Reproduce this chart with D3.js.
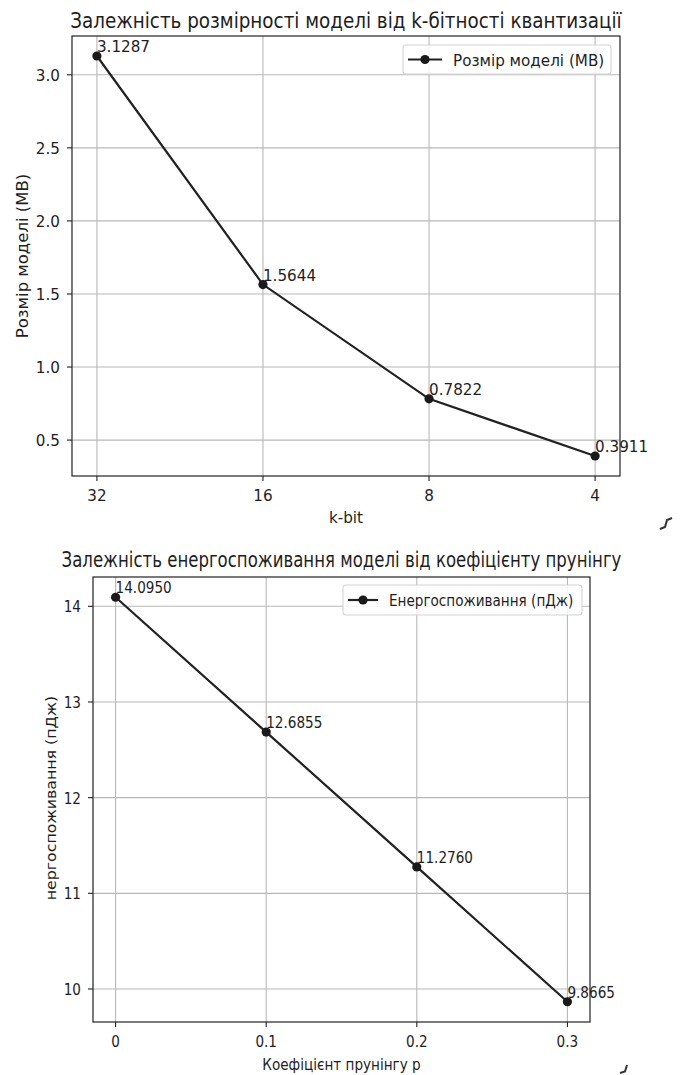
<!DOCTYPE html>
<html>
<head>
<meta charset="utf-8">
<script src="https://cdn.jsdelivr.net/npm/d3@7"></script>
<style>
  html, body { margin: 0; padding: 0; background: #fff; }
  svg { display: block; }
  text { font-family: "DejaVu Sans", sans-serif; fill: #1e1e1e; }
</style>
</head>
<body>
<svg id="fig" width="683" height="1075"></svg>
<script>
// ---- Chart 1: model size vs. quantization bit width ----
const kbitLabels = ["32", "16", "8", "4"];
const modelSizes = [3.1287, 1.5644, 0.7822, 0.3911];
const sizeTicks = [0.5, 1.0, 1.5, 2.0, 2.5, 3.0];

// ---- Chart 2: energy consumption vs. pruning coefficient ----
const pruneCoef = [0, 0.1, 0.2, 0.3];
const energy = [14.0950, 12.6855, 11.2760, 9.8665];
const pruneTicks = [0, 0.1, 0.2, 0.3];
const energyTicks = [10, 11, 12, 13, 14];

const INK = "#222";
const GRID = "#b8b8b8";

const svg = d3.select("#fig");

function label(g, x, y, s, o) {
  const sx = o.sx;
  return g.append("text")
    .attr("transform", `translate(${x},${y})` + (o.rotate ? ` rotate(${o.rotate}) scale(1,${sx})` : ` scale(${sx},1)`))
    .attr("font-size", o.fs)
    .attr("text-anchor", o.anchor || "start")
    .text(s);
}

function margined(lo, hi) {
  const pad = (hi - lo) * 0.05;
  return [lo - pad, hi + pad];
}

function drawChart(cfg) {
  const g = svg.append("g");
  const { left, right, top, bottom } = cfg.box;
  const T = { fs: cfg.fs, sx: cfg.sx };
  const x = d3.scaleLinear().domain(margined(d3.min(cfg.xs), d3.max(cfg.xs))).range([left, right]);
  const y = d3.scaleLinear().domain(margined(d3.min(cfg.ys), d3.max(cfg.ys))).range([bottom, top]);

  // grid
  g.selectAll(".gx").data(cfg.xTickVals).join("line")
    .attr("x1", d => x(d)).attr("x2", d => x(d))
    .attr("y1", top).attr("y2", bottom)
    .attr("stroke", GRID).attr("stroke-width", 1.1);
  g.selectAll(".gy").data(cfg.yTickVals).join("line")
    .attr("y1", d => y(d)).attr("y2", d => y(d))
    .attr("x1", left).attr("x2", right)
    .attr("stroke", GRID).attr("stroke-width", 1.1);

  // ticks
  g.selectAll(".tx").data(cfg.xTickVals).join("line")
    .attr("x1", d => x(d)).attr("x2", d => x(d))
    .attr("y1", bottom).attr("y2", bottom + 5)
    .attr("stroke", INK).attr("stroke-width", 1.1);
  g.selectAll(".ty").data(cfg.yTickVals).join("line")
    .attr("y1", d => y(d)).attr("y2", d => y(d))
    .attr("x1", left - 5).attr("x2", left)
    .attr("stroke", INK).attr("stroke-width", 1.1);

  cfg.xTickVals.forEach((v, i) => label(g, x(v), bottom + 25, cfg.xTickText[i], { ...T, anchor: "middle" }));
  cfg.yTickVals.forEach(v => label(g, left - 12, y(v) + 6, cfg.yFmt(v), { ...T, anchor: "end" }));

  // frame
  g.append("rect").attr("x", left).attr("y", top)
    .attr("width", right - left).attr("height", bottom - top)
    .attr("fill", "none").attr("stroke", INK).attr("stroke-width", 1.2);

  // series
  const pts = cfg.xs.map((v, i) => [x(v), y(cfg.ys[i])]);
  g.append("path").attr("d", d3.line()(pts))
    .attr("fill", "none").attr("stroke", INK).attr("stroke-width", 2.2);
  g.selectAll(".pt").data(pts).join("circle")
    .attr("cx", d => d[0]).attr("cy", d => d[1]).attr("r", 4.6)
    .attr("fill", "#1a1a1a");

  // value annotations
  cfg.ys.forEach((v, i) => label(g, x(cfg.xs[i]), y(v) - 4, v.toFixed(4), T));

  // title and axis labels
  label(g, (left + right) / 2, cfg.titleY, cfg.title, { anchor: "middle", fs: cfg.titleFs, sx: cfg.titleSx });
  label(g, (left + right) / 2, cfg.xLabelY, cfg.xLabel, { ...T, anchor: "middle" });
  label(g, cfg.yLabelX, cfg.yLabelY, cfg.yLabel, { ...T, anchor: "middle", rotate: -90 });

  // legend
  const L = cfg.legend;
  g.append("rect").attr("x", L.x).attr("y", L.y).attr("width", L.w).attr("height", L.h)
    .attr("rx", 3).attr("fill", "#fff").attr("fill-opacity", 0.85)
    .attr("stroke", "#d4d4d4").attr("stroke-width", 1.1);
  const ly = L.y + L.h / 2;
  g.append("line").attr("x1", L.x + 5).attr("x2", L.x + 5 + L.line)
    .attr("y1", ly).attr("y2", ly).attr("stroke", INK).attr("stroke-width", 2.2);
  g.append("circle").attr("cx", L.x + 5 + L.line / 2).attr("cy", ly).attr("r", 4.6).attr("fill", "#1a1a1a");
  label(g, L.x + 5 + L.line + 11, ly + 6, cfg.seriesName, T);
}

drawChart({
  box: { left: 72, right: 620, top: 36, bottom: 476 },
  fs: 16.5, sx: 0.92, titleFs: 21.5, titleSx: 0.853,
  xs: kbitLabels.map((_, i) => i),
  ys: modelSizes,
  xTickVals: kbitLabels.map((_, i) => i),
  xTickText: kbitLabels,
  yTickVals: sizeTicks,
  yFmt: d3.format(".1f"),
  title: "Залежність розмірності моделі від k-бітності квантизації",
  titleY: 28,
  xLabel: "k-bit",
  xLabelY: 523,
  yLabel: "Розмір моделі (MB)",
  yLabelX: 28,
  yLabelY: 256,
  seriesName: "Розмір моделі (MB)",
  legend: { x: 403, y: 45, w: 208, h: 29, line: 34 }
});

drawChart({
  box: { left: 93, right: 590, top: 577, bottom: 1022 },
  fs: 15.8, sx: 0.86, titleFs: 20.5, titleSx: 0.808,
  xs: pruneCoef,
  ys: energy,
  xTickVals: pruneTicks,
  xTickText: pruneTicks.map(d => String(d)),
  yTickVals: energyTicks,
  yFmt: d3.format("d"),
  title: "Залежність енергоспоживання моделі від коефіцієнту прунінгу",
  titleY: 567,
  xLabel: "Коефіцієнт прунінгу р",
  xLabelY: 1070,
  yLabel: "нергоспоживання (пДж)",
  yLabelX: 56,
  yLabelY: 798,
  seriesName: "Енергоспоживання (пДж)",
  legend: { x: 343, y: 585, w: 239, h: 30, line: 30 }
});

// small stray corner marks at the right edge
const marks = [
  [[660, 529], [665, 527], [667, 520], [672, 518]],
  [[620, 1073], [625, 1071.5], [627, 1065]]
];
svg.selectAll(".mark").data(marks).join("path")
  .attr("d", d => d3.line()(d))
  .attr("fill", "none").attr("stroke", "#333").attr("stroke-width", 2);
</script>
</body>
</html>
